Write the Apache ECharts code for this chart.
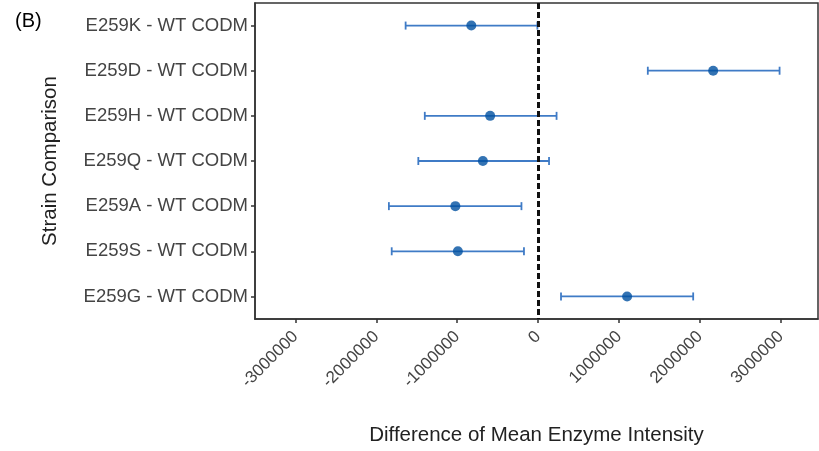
<!DOCTYPE html>
<html>
<head>
<meta charset="utf-8">
<script src="https://cdn.jsdelivr.net/npm/echarts@6/dist/echarts.min.js"></script>
<style>
  html, body { margin: 0; padding: 0; background: #fff; }
  #chart { width: 819px; height: 451px; }
</style>
</head>
<body>
<div id="chart"></div>
<script>
// strain comparisons, top to bottom as drawn
const categories = [
  'E259K - WT CODM',
  'E259D - WT CODM',
  'E259H - WT CODM',
  'E259Q - WT CODM',
  'E259A - WT CODM',
  'E259S - WT CODM',
  'E259G - WT CODM'
]
const diffMean = [-826000, 2164000, -593000, -683000, -1023000, -992000, 1100000]
const lowerCI = [-1638000, 1356000, -1401000, -1481000, -1845000, -1810000, 283000]
const upperCI = [-9000, 2985000, 228000, 135000, -206000, -175000, 1917000]
const xTicks = [-3000000, -2000000, -1000000, 0, 1000000, 2000000, 3000000]

const chart = echarts.init(document.getElementById('chart'))
const font = 'Liberation Sans, Arial, sans-serif'
const barColor = '#3f7bc6'

const errData = categories.map((c, i) => [i, lowerCI[i], upperCI[i]])
const pointData = categories.map((c, i) => [diffMean[i], i])

const options = {
  animation: false,
  graphic: [
    {
      type: 'text',
      left: 15,
      top: 11,
      style: { text: '(B)', font: '20px ' + font, fill: '#000' }
    }
  ],
  grid: {
    left: 255,
    right: 1,
    top: 3,
    bottom: 130,
    show: true,
    borderColor: '#333',
    borderWidth: 1.5,
    backgroundColor: '#fff'
  },
  xAxis: {
    type: 'value',
    min: -3500000,
    max: 3460000,
    interval: 1000000,
    name: 'Difference of Mean Enzyme Intensity',
    nameLocation: 'middle',
    nameGap: 106,
    nameTextStyle: { fontFamily: font, fontSize: 20.5, color: '#222' },
    axisLine: { show: true, onZero: false, lineStyle: { color: '#333', width: 1.5 } },
    axisTick: { show: true, length: 4, customValues: xTicks, lineStyle: { color: '#333', width: 1.5 } },
    axisLabel: {
      customValues: xTicks,
      rotate: 45,
      margin: 15,
      fontFamily: font,
      fontSize: 17,
      color: '#444',
      formatter: (v) => String(v)
    },
    splitLine: { show: false }
  },
  yAxis: {
    type: 'category',
    data: categories,
    inverse: true,
    boundaryGap: true,
    name: 'Strain Comparison',
    nameLocation: 'middle',
    nameGap: 194,
    nameRotate: 90,
    nameTextStyle: { fontFamily: font, fontSize: 20.5, color: '#222' },
    axisLine: { show: true, onZero: false, lineStyle: { color: '#333', width: 1.5 } },
    axisTick: { show: true, length: 4, alignWithLabel: true, lineStyle: { color: '#333', width: 1.5 } },
    axisLabel: { fontFamily: font, fontSize: 18.5, color: '#444', margin: 7 },
    splitLine: { show: false }
  },
  series: [
    {
      type: 'custom',
      data: errData,
      z: 3,
      renderItem: (params, api) => {
        const idx = api.value(0)
        const lo = api.coord([api.value(1), idx])
        const hi = api.coord([api.value(2), idx])
        const cap = 4
        const style = { stroke: barColor, lineWidth: 1.8 }
        return {
          type: 'group',
          children: [
            { type: 'line', shape: { x1: lo[0], y1: lo[1], x2: hi[0], y2: hi[1] }, style },
            { type: 'line', shape: { x1: lo[0], y1: lo[1] - cap, x2: lo[0], y2: lo[1] + cap }, style },
            { type: 'line', shape: { x1: hi[0], y1: hi[1] - cap, x2: hi[0], y2: hi[1] + cap }, style }
          ]
        }
      },
      encode: { x: [1, 2], y: 0 }
    },
    {
      type: 'scatter',
      data: pointData,
      symbol: 'circle',
      symbolSize: 10,
      z: 5,
      itemStyle: { color: '#0050a0' },
      markLine: {
        silent: true,
        symbol: 'none',
        label: { show: false },
        lineStyle: { color: '#111', type: [6, 3], width: 3 },
        data: [{ xAxis: 0 }]
      }
    }
  ]
}
chart.setOption(options)
</script>
</body>
</html>
